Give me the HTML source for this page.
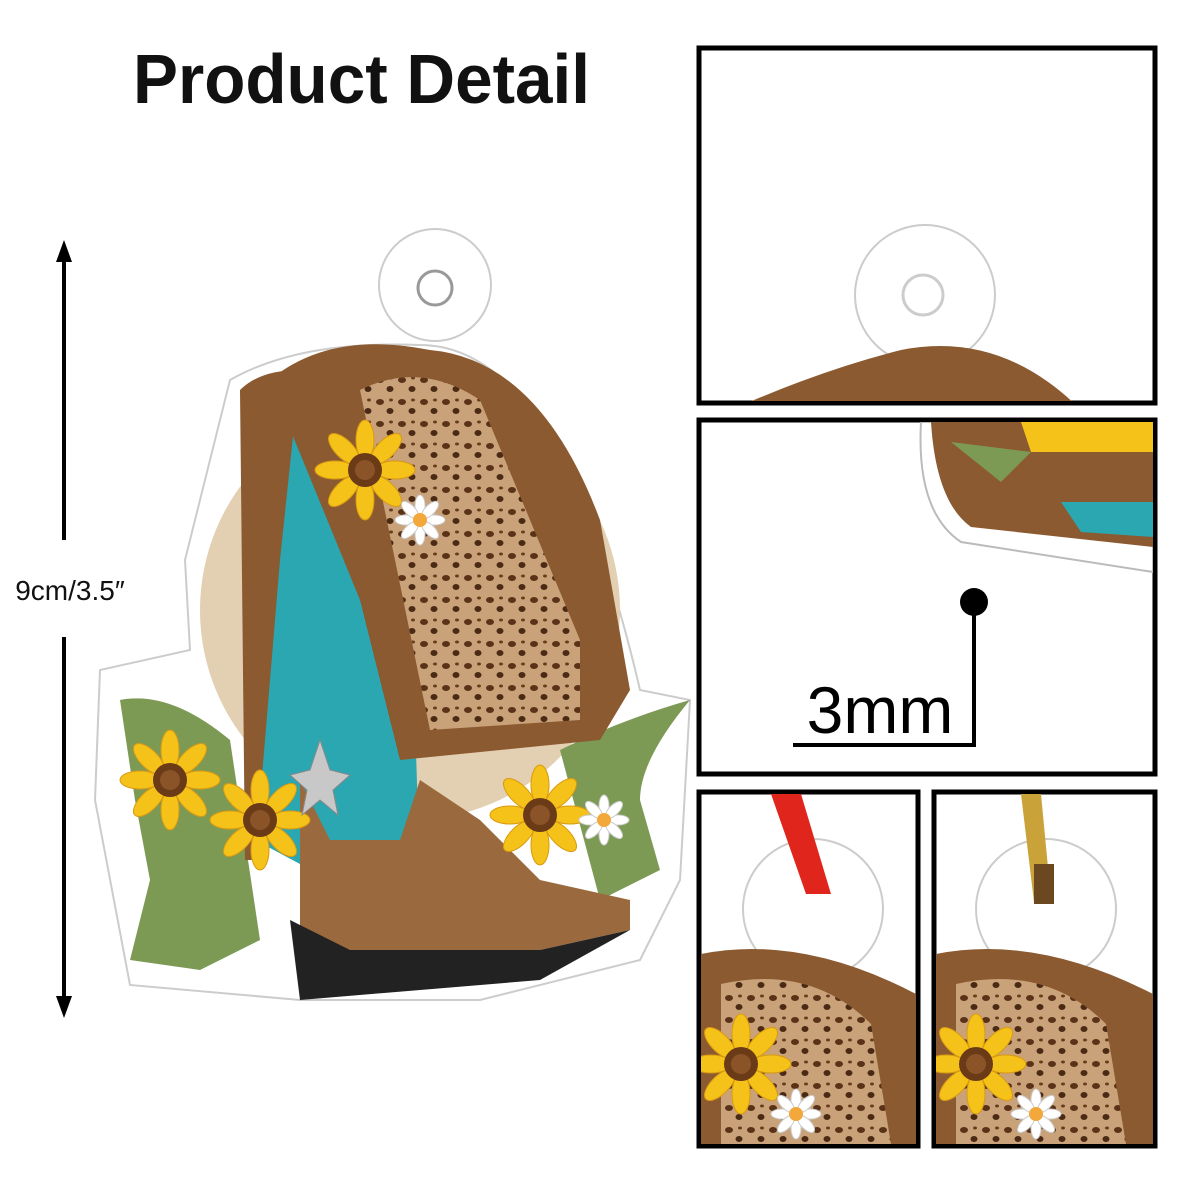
<!DOCTYPE html>
<html><head><meta charset="utf-8"><style>
html,body{margin:0;padding:0;background:#fff}
svg{display:block}
</style></head><body>
<svg width="1200" height="1200" viewBox="0 0 1200 1200" xmlns="http://www.w3.org/2000/svg">
<defs>
<pattern id="leo" width="22" height="22" patternUnits="userSpaceOnUse">
<rect width="22" height="22" fill="#c9a27a"/>
<ellipse cx="6" cy="6" rx="4" ry="3" fill="#5a3218"/>
<ellipse cx="16" cy="15" rx="3.5" ry="3" fill="#4a2a14"/>
<ellipse cx="17" cy="4" rx="2" ry="1.5" fill="#6a3c1e"/>
</pattern>
<g id="sun">
<g fill="#f5c21a" stroke="#d99a10" stroke-width="1">
<ellipse cx="0" cy="-30" rx="9" ry="20"/><ellipse cx="0" cy="30" rx="9" ry="20"/>
<ellipse cx="-30" cy="0" rx="20" ry="9"/><ellipse cx="30" cy="0" rx="20" ry="9"/>
<ellipse cx="21" cy="21" rx="9" ry="20" transform="rotate(-45 21 21)"/>
<ellipse cx="-21" cy="-21" rx="9" ry="20" transform="rotate(-45 -21 -21)"/>
<ellipse cx="21" cy="-21" rx="9" ry="20" transform="rotate(45 21 -21)"/>
<ellipse cx="-21" cy="21" rx="9" ry="20" transform="rotate(45 -21 21)"/>
</g>
<circle r="17" fill="#6b3a16"/><circle r="10" fill="#8a5428"/>
</g>
<g id="daisy">
<g fill="#fff" stroke="#ccc" stroke-width="1">
<ellipse cx="0" cy="-14" rx="5" ry="11"/><ellipse cx="0" cy="14" rx="5" ry="11"/>
<ellipse cx="-14" cy="0" rx="11" ry="5"/><ellipse cx="14" cy="0" rx="11" ry="5"/>
<ellipse cx="10" cy="10" rx="5" ry="11" transform="rotate(-45 10 10)"/>
<ellipse cx="-10" cy="-10" rx="5" ry="11" transform="rotate(-45 -10 -10)"/>
<ellipse cx="10" cy="-10" rx="5" ry="11" transform="rotate(45 10 -10)"/>
<ellipse cx="-10" cy="10" rx="5" ry="11" transform="rotate(45 -10 10)"/>
</g>
<circle r="7" fill="#f2a83a"/>
</g>
</defs>

<text x="133" y="103" textLength="457" lengthAdjust="spacingAndGlyphs" font-family="Liberation Sans, sans-serif" font-weight="bold" font-size="70" fill="#111">Product Detail</text>

<!-- measurement arrow -->
<line x1="64" y1="258" x2="64" y2="540" stroke="#000" stroke-width="4"/>
<line x1="64" y1="637" x2="64" y2="1000" stroke="#000" stroke-width="4"/>
<polygon points="64,240 56,262 72,262" fill="#000"/>
<polygon points="64,1018 56,996 72,996" fill="#000"/>
<text x="70" y="600" text-anchor="middle" font-family="Liberation Sans, sans-serif" font-size="28" fill="#111">9cm/3.5″</text>

<!-- main ornament -->
<g>
<circle cx="435" cy="285" r="56" fill="#fff" stroke="#ccc" stroke-width="2"/>
<circle cx="435" cy="288" r="17" fill="#fff" stroke="#999" stroke-width="3"/>
<path d="M230 380 Q300 340 420 345 Q560 345 640 690 L690 700 L680 880 L640 960 L480 1000 L300 1000 L130 985 L95 800 L100 670 L190 650 L185 560 Z" fill="#fff" stroke="#ccc" stroke-width="2"/>
<circle cx="410" cy="610" r="210" fill="#e3cfb1"/>
<path d="M120 700 Q170 690 230 740 L260 940 L200 970 L130 960 L150 880 L135 800 Z" fill="#7d9a55"/>
<path d="M560 750 Q620 720 690 700 Q640 760 640 800 L660 870 L600 900 Z" fill="#7d9a55"/>
<path d="M245 410 L255 840 L330 880 L420 880 L410 560 L350 420 Z" fill="#2aa7b0"/>
<path d="M240 390 Q260 370 300 370 L280 560 L255 860 L245 860 Z" fill="#8b5a30"/>
<path d="M270 380 Q330 330 430 350 Q540 360 600 520 L630 690 L600 740 L400 760 L360 600 Z" fill="#8b5a30"/>
<path d="M360 390 Q420 360 480 400 L580 640 L580 720 L430 730 Z" fill="url(#leo)"/>
<path d="M300 780 L330 840 L400 840 L420 780 L480 820 L540 880 L630 900 L630 930 L540 950 L470 960 L340 960 L300 990 Z" fill="#9a6a3e"/>
<path d="M290 920 L300 1000 L540 980 L630 930 L540 950 L350 950 Z" fill="#222"/>
<use href="#sun" x="365" y="470"/>
<use href="#sun" x="260" y="820"/>
<use href="#sun" x="540" y="815"/>
<use href="#sun" x="170" y="780"/>
<use href="#daisy" x="420" y="520"/>
<use href="#daisy" x="604" y="820"/>
<polygon points="320,740 330,770 350,775 333,790 338,815 320,800 302,815 307,790 290,775 310,770" fill="#c8c8c8" stroke="#888"/>
</g>

<!-- boxes -->
<g fill="#fff" stroke="#000" stroke-width="5">
<rect x="699" y="48" width="456" height="355"/>
<rect x="699" y="420" width="456" height="354"/>
<rect x="699" y="792" width="219" height="354"/>
<rect x="934" y="792" width="221" height="354"/>
</g>

<!-- box1 content -->
<svg x="701" y="50" width="452" height="351">
<circle cx="224" cy="245" r="70" fill="#fff" stroke="#ccc" stroke-width="2"/>
<circle cx="222" cy="245" r="20" fill="#fff" stroke="#ccc" stroke-width="3"/>
<path d="M30 360 Q120 320 200 300 Q300 280 380 360 Z" fill="#8b5a30"/>
</svg>
<!-- box2 content -->
<svg x="701" y="422" width="452" height="350">
<path d="M220 0 Q215 90 260 120 L452 150 L452 0 Z" fill="#fff" stroke="#bbb" stroke-width="2"/>
<path d="M230 0 Q235 80 270 105 L452 125 L452 0 Z" fill="#8b5a30"/>
<path d="M320 0 L452 0 L452 30 L330 30 Z" fill="#f5c21a"/>
<path d="M250 20 L330 30 L300 60 Z" fill="#7d9a55"/>
<path d="M360 80 L452 80 L452 115 L380 110 Z" fill="#2aa7b0"/>
</svg>
<circle cx="974" cy="602" r="14" fill="#000"/>
<line x1="974" y1="602" x2="974" y2="745" stroke="#000" stroke-width="4"/>
<line x1="793" y1="745" x2="976" y2="745" stroke="#000" stroke-width="4"/>
<text x="880" y="733" text-anchor="middle" font-family="Liberation Sans, sans-serif" font-size="66" fill="#000">3mm</text>

<!-- box3 -->
<svg x="701" y="794" width="215" height="350">
<circle cx="112" cy="115" r="70" fill="#fff" stroke="#ccc" stroke-width="2"/>
<path d="M70 0 L100 0 L130 100 L105 100 Z" fill="#e0261c"/>
<path d="M0 160 Q100 140 215 200 L215 350 L0 350 Z" fill="#8b5a30"/>
<path d="M20 190 Q110 170 170 230 L190 350 L20 350 Z" fill="url(#leo)"/>
<use href="#sun" x="40" y="270"/>
<use href="#daisy" x="95" y="320"/>
</svg>
<!-- box4 -->
<svg x="936" y="794" width="217" height="350">
<circle cx="110" cy="115" r="70" fill="#fff" stroke="#ccc" stroke-width="2"/>
<path d="M85 0 L105 0 L115 105 L98 108 Z" fill="#c9a33a"/>
<rect x="98" y="70" width="20" height="40" fill="#6b4820"/>
<path d="M0 160 Q100 140 217 200 L217 350 L0 350 Z" fill="#8b5a30"/>
<path d="M20 190 Q110 170 170 230 L190 350 L20 350 Z" fill="url(#leo)"/>
<use href="#sun" x="40" y="270"/>
<use href="#daisy" x="100" y="320"/>
</svg>
</svg>
</body></html>
